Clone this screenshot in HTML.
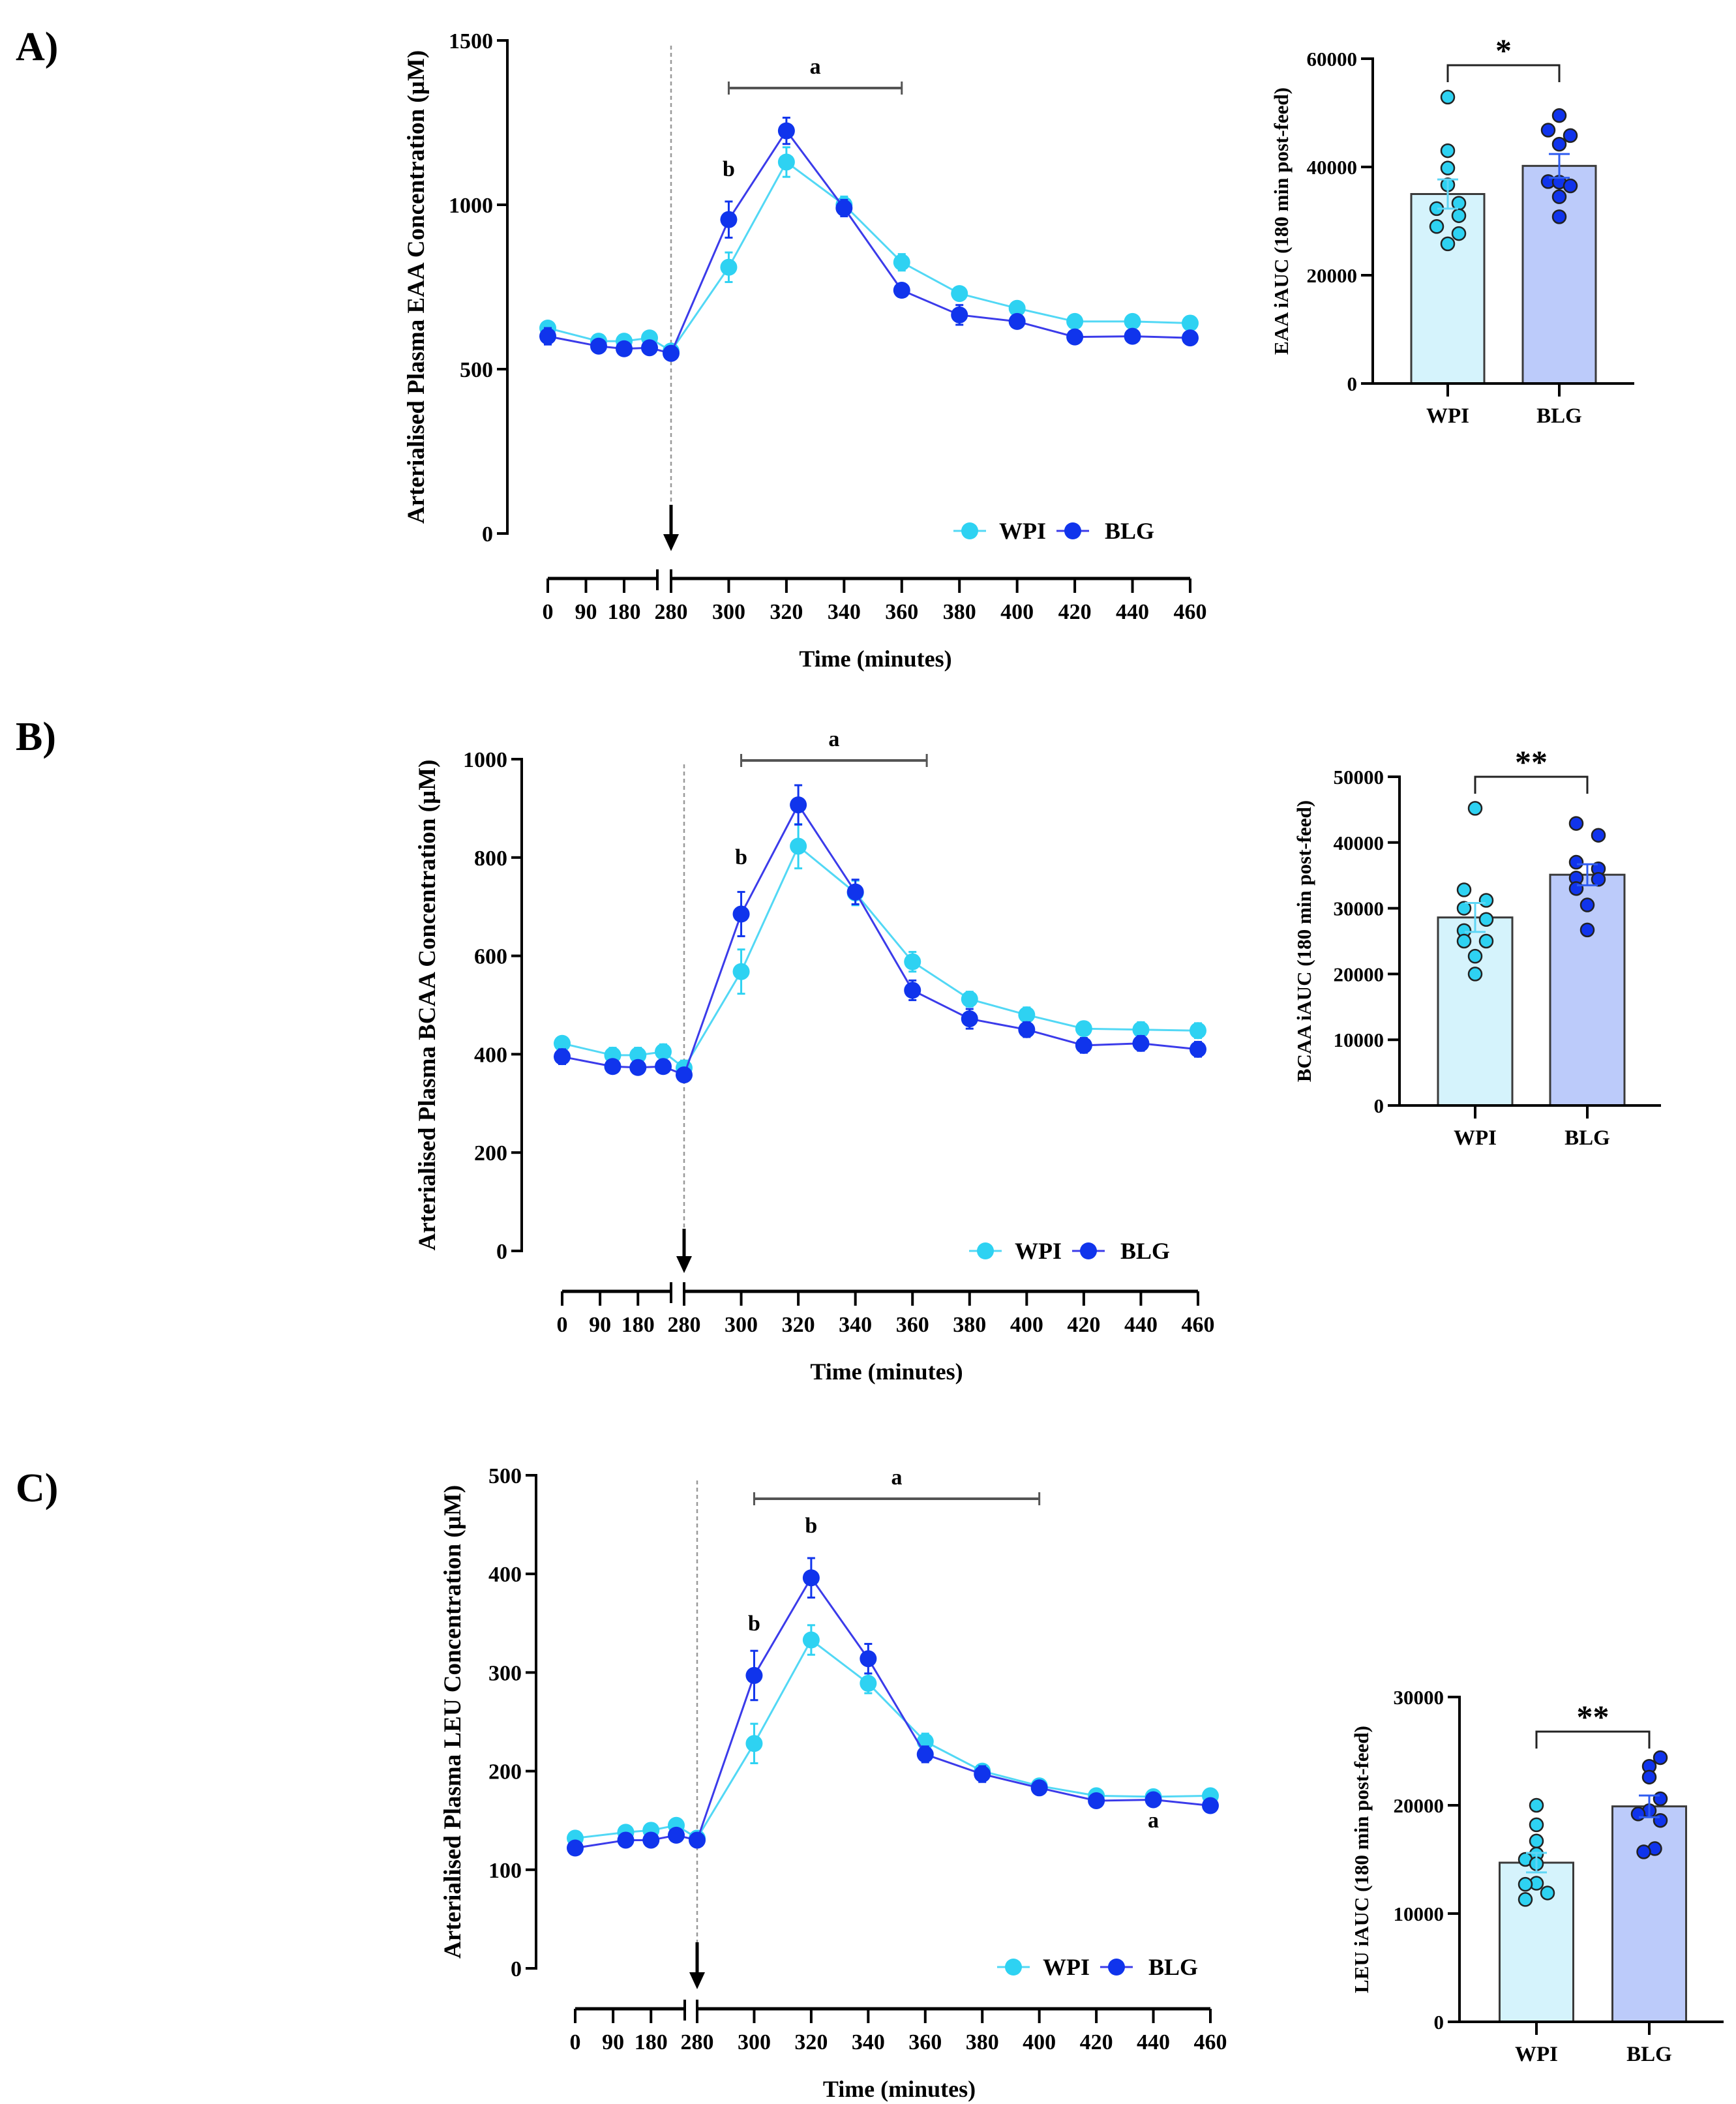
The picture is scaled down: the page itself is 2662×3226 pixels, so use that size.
<!DOCTYPE html>
<html><head><meta charset="utf-8"><style>
html,body{margin:0;padding:0;background:#fff}
svg{display:block;font-family:"Liberation Serif",serif;font-weight:bold}
</style></head><body>
<svg id="fig" width="2662" height="3226" viewBox="0 0 2662 3226" xmlns="http://www.w3.org/2000/svg">
<text x="24" y="92" font-size="62">A)</text>
<text x="24" y="1150" font-size="62">B)</text>
<text x="24" y="2302" font-size="62">C)</text>
</svg>
<script>
// ---- shared time categories ----
const times = [0,120,180,240,280,300,320,340,360,380,400,420,440,460];
const timeTicks = [0,90,180,280,300,320,340,360,380,400,420,440,460];
// ---- Panel A (EAA) ----
const eaaWPI = [625,585,585,595,555,810,1130,1000,825,730,685,645,645,640];
const eaaWPIerr = [15,12,15,15,12,45,45,25,25,15,12,10,10,12];
const eaaBLG = [600,570,562,565,548,955,1225,990,740,665,645,598,600,595];
const eaaBLGerr = [25,15,15,15,12,55,40,25,20,30,15,12,12,15];
const eaaTicks = [0,500,1000,1500];
// ---- Panel B (BCAA) ----
const bcaaWPI = [422,398,398,405,372,568,823,728,588,512,480,452,450,448];
const bcaaWPIerr = [12,15,15,15,15,45,45,25,20,15,15,12,15,15];
const bcaaBLG = [395,375,373,375,358,685,907,730,530,472,450,418,422,410];
const bcaaBLGerr = [15,12,12,12,12,45,40,25,20,20,15,15,15,15];
const bcaaTicks = [0,200,400,600,800,1000];
// ---- Panel C (LEU) ----
const leuWPI = [132,138,140,145,132,228,333,289,230,200,185,175,174,175];
const leuWPIerr = [5,5,5,5,5,20,15,10,8,6,5,4,4,4];
const leuBLG = [122,130,130,135,130,297,396,314,217,197,183,170,171,165];
const leuBLGerr = [5,5,5,5,5,25,20,15,8,8,4,4,4,5];
const leuTicks = [0,100,200,300,400,500];
// ---- Bar charts ----
const groups = ['WPI','BLG'];
const eaaMeans = [35000,40200]; const eaaSem = [2700,2200];
const eaaPtsWPI = [52900,43000,39800,36700,33300,32300,31000,29000,27700,25800];
const eaaPtsBLG = [49500,46800,45800,44200,37300,37200,36500,34500,30800];
const eaaBarTicks = [0,20000,40000,60000];
const bcaaMeans = [28600,35100]; const bcaaSem = [2200,1600];
const bcaaPtsWPI = [45200,32800,31200,30000,28300,26600,25000,25000,22700,20000];
const bcaaPtsBLG = [42900,41100,37000,36000,34600,34400,33000,30500,26700];
const bcaaBarTicks = [0,10000,20000,30000,40000,50000];
const leuMeans = [14700,19900]; const leuSem = [900,1000];
const leuPtsWPI = [20000,18200,16700,15500,15000,14600,12800,12700,11900,11300];
const leuPtsBLG = [24400,23600,22600,20600,19500,19200,18600,16000,15700];
const leuBarTicks = [0,10000,20000,30000];
// jitter columns (-1,0,1) for dot placement
const jitA1=[0,0,0,0,1,-1,1,-1,1,0], jitA2=[0,-1,1,0,-1,0,1,0,0];
const jitB1=[0,-1,1,-1,1,-1,-1,1,0,0], jitB2=[-1,1,-1,1,-1,1,-1,0,0];
const jitC1=[0,0,0,0,-1,0,0,-1,1,-1], jitC2=[1,0,0,1,0,-1,1,0.5,-0.5];

const NS='http://www.w3.org/2000/svg';
const svg=document.getElementById('fig');
function mk(tag,attrs,parent,txt){const e=document.createElementNS(NS,tag);for(const k in attrs)e.setAttribute(k,attrs[k]);if(txt!==undefined)e.textContent=txt;(parent||svg).appendChild(e);return e;}
const CW='#2ed2f2', CB='#1034ec', LW='#52d8f5', LB='#3b3bea';

function lineChart(p,wpi,wErr,blg,bErr,ticks,maxV,title){
  const g=mk('g',{});
  
  
  const X=t=> t<=240 ? p.x0+t*(p.x240-p.x0)/240 : p.x280+(t-280)*(p.x460-p.x280)/180;
  const Y=v=> p.y0-v*(p.y0-p.yTop)/maxV;
  const ya=mk('line',{x1:p.ax,y1:p.yTop-2,x2:p.ax,y2:p.y0+2,stroke:'#000','stroke-width':4},g);
  
  
  ticks.forEach(v=>{
    mk('line',{x1:p.ax-16,y1:Y(v),x2:p.ax,y2:Y(v),stroke:'#000','stroke-width':4},g);
    const t=mk('text',{x:p.ax-22,y:Y(v)+12,'font-size':34,'text-anchor':'end'},g,String(v));
    
    
  });
  const yt=mk('text',{x:p.titleX,y:(p.yTop+p.y0)/2,'font-size':37,'text-anchor':'middle',transform:`rotate(-90 ${p.titleX} ${(p.yTop+p.y0)/2})`},g,title);
  
  
  mk('line',{x1:p.x280,y1:p.yTop+8,x2:p.x280,y2:p.arrowTop,stroke:'#999','stroke-width':2.5,'stroke-dasharray':'6 5'},g);
  const ar=mk('g',{},g);
  
  
  mk('line',{x1:p.x280,y1:p.arrowTop,x2:p.x280,y2:p.arrowBot-20,stroke:'#000','stroke-width':5},ar);
  mk('polygon',{points:`${p.x280-12},${p.arrowBot-26} ${p.x280+12},${p.arrowBot-26} ${p.x280},${p.arrowBot}`,fill:'#000'},ar);
  const ta=mk('g',{},g);
  
  
  mk('line',{x1:p.x0,y1:p.xl,x2:p.brk,y2:p.xl,stroke:'#000','stroke-width':5},ta);
  mk('line',{x1:p.x280,y1:p.xl,x2:p.x460,y2:p.xl,stroke:'#000','stroke-width':5},ta);
  mk('line',{x1:p.brk,y1:p.xl-14,x2:p.brk,y2:p.xl+18,stroke:'#000','stroke-width':4},ta);
  mk('line',{x1:p.x280,y1:p.xl-14,x2:p.x280,y2:p.xl+18,stroke:'#000','stroke-width':4},ta);
  timeTicks.forEach(t=>{
    mk('line',{x1:X(t),y1:p.xl,x2:X(t),y2:p.xl+22,stroke:'#000','stroke-width':4},ta);
    const l=mk('text',{x:X(t),y:p.xl+62,'font-size':34,'text-anchor':'middle'},ta,String(t));
    
    
  });
  const xt=mk('text',{x:(p.x0+p.x460)/2+10,y:p.xl+135,'font-size':36,'text-anchor':'middle'},g,'Time (minutes)');
  
  
  function series(vals,errs,lc,mc,nm){
    const sg=mk('g',{},g);
    
    
    mk('polyline',{points:vals.map((v,i)=>X(times[i])+','+Y(v)).join(' '),fill:'none',stroke:lc,'stroke-width':3},sg);
    vals.forEach((v,i)=>{
      const x=X(times[i]);
      mk('line',{x1:x,y1:Y(v-errs[i]),x2:x,y2:Y(v+errs[i]),stroke:mc,'stroke-width':3},sg);
      mk('line',{x1:x-6,y1:Y(v+errs[i]),x2:x+6,y2:Y(v+errs[i]),stroke:mc,'stroke-width':3},sg);
      mk('line',{x1:x-6,y1:Y(v-errs[i]),x2:x+6,y2:Y(v-errs[i]),stroke:mc,'stroke-width':3},sg);
      const c=mk('circle',{cx:x,cy:Y(v),r:13,fill:mc},sg);
      
      
    });
  }
  series(wpi,wErr,LW,CW,'wpi-series');
  series(blg,bErr,LB,CB,'blg-series');
  const br=mk('g',{},g);
  
  
  mk('line',{x1:X(300),y1:p.brY,x2:X(p.brEnd),y2:p.brY,stroke:'#555','stroke-width':4},br);
  mk('line',{x1:X(300),y1:p.brY-10,x2:X(300),y2:p.brY+10,stroke:'#555','stroke-width':3},br);
  mk('line',{x1:X(p.brEnd),y1:p.brY-10,x2:X(p.brEnd),y2:p.brY+10,stroke:'#555','stroke-width':3},br);
  mk('text',{x:(X(300)+X(p.brEnd))/2,y:p.brY-22,'font-size':34,'text-anchor':'middle'},br,'a');
  p.notes.forEach(n=>{
    const t=mk('text',{x:X(n[0]),y:n[1],'font-size':34,'text-anchor':'middle'},g,n[2]);
    
    
  });
  const lg=mk('g',{},g);
  
  
  const lx=p.legX, ly=p.legY;
  mk('line',{x1:lx,y1:ly,x2:lx+50,y2:ly,stroke:LW,'stroke-width':3},lg);
  mk('circle',{cx:lx+25,cy:ly,r:13,fill:CW},lg);
  mk('text',{x:lx+70,y:ly+12,'font-size':36},lg,'WPI');
  mk('line',{x1:lx+158,y1:ly,x2:lx+208,y2:ly,stroke:LB,'stroke-width':3},lg);
  mk('circle',{cx:lx+183,cy:ly,r:13,fill:CB},lg);
  mk('text',{x:lx+232,y:ly+12,'font-size':36},lg,'BLG');
}

lineChart({name:'eaa-line-chart',ax:778,x0:840,x240:996,x280:1029,x460:1825,y0:818,yTop:62,xl:887,brk:1008,
  arrowTop:774,arrowBot:845,titleX:650,brY:135,brEnd:360,legX:1462,legY:814,
  notes:[[300,270,'b']]},eaaWPI,eaaWPIerr,eaaBLG,eaaBLGerr,eaaTicks,1500,'Arterialised Plasma EAA Concentration (\u00b5M)');
lineChart({name:'bcaa-line-chart',ax:800,x0:862,x240:1017,x280:1049,x460:1837,y0:1918,yTop:1164,xl:1980,brk:1029,
  arrowTop:1884,arrowBot:1952,titleX:667,brY:1166,brEnd:365,legX:1486,legY:1918,
  notes:[[300,1325,'b']]},bcaaWPI,bcaaWPIerr,bcaaBLG,bcaaBLGerr,bcaaTicks,1000,'Arterialised Plasma BCAA Concentration (\u00b5M)');
lineChart({name:'leu-line-chart',ax:822,x0:882,x240:1037,x280:1069,x460:1856,y0:3018,yTop:2262,xl:3080,brk:1050,
  arrowTop:2978,arrowBot:3050,titleX:706,brY:2298,brEnd:400,legX:1529,legY:3016,
  notes:[[300,2500,'b'],[320,2350,'b'],[440,2802,'a']]},leuWPI,leuWPIerr,leuBLG,leuBLGerr,leuTicks,500,'Arterialised Plasma LEU Concentration (\u00b5M)');

function barChart(p,means,sems,ptsW,ptsB,jW,jB,ticks,maxV,title,stars){
  const g=mk('g',{});
  
  
  const Y=v=>p.y0-v*(p.y0-p.yTop)/maxV;
  const cx=[p.c1,p.c2], fills=['#d5f3fc','#bccbfa'], dot=[CW,CB], semC=['#5fd6f5','#2f5cf0'];
  means.forEach((m,i)=>{
    const b=mk('rect',{x:cx[i]-p.bw/2,y:Y(m),width:p.bw,height:p.y0-Y(m),fill:fills[i],stroke:'#3a3a3a','stroke-width':3},g);
    
    
  });
  [ptsW,ptsB].forEach((pts,i)=>{
    const jit=i?jB:jW;
    pts.forEach((v,k)=>{
      const c=mk('circle',{cx:cx[i]+jit[k]*17,cy:Y(v),r:10,fill:dot[i],stroke:'#222','stroke-width':2.5},g);
      
      
    });
  });
  means.forEach((m,i)=>{
    mk('line',{x1:cx[i],y1:Y(m-sems[i]),x2:cx[i],y2:Y(m+sems[i]),stroke:semC[i],'stroke-width':3},g);
    mk('line',{x1:cx[i]-16,y1:Y(m+sems[i]),x2:cx[i]+16,y2:Y(m+sems[i]),stroke:semC[i],'stroke-width':3},g);
    mk('line',{x1:cx[i]-16,y1:Y(m-sems[i]),x2:cx[i]+16,y2:Y(m-sems[i]),stroke:semC[i],'stroke-width':3},g);
  });
  const ya=mk('line',{x1:p.ax,y1:p.yTop-2,x2:p.ax,y2:p.y0,stroke:'#000','stroke-width':4},g);
  
  
  const xa=mk('line',{x1:p.ax-18,y1:p.y0,x2:p.axEnd,y2:p.y0,stroke:'#000','stroke-width':4},g);
  
  
  ticks.forEach(v=>{
    mk('line',{x1:p.ax-18,y1:Y(v),x2:p.ax,y2:Y(v),stroke:'#000','stroke-width':4},g);
    const t=mk('text',{x:p.ax-24,y:Y(v)+11,'font-size':31,'text-anchor':'end'},g,String(v));
    
    
  });
  groups.forEach((n,i)=>{
    mk('line',{x1:cx[i],y1:p.y0,x2:cx[i],y2:p.y0+20,stroke:'#000','stroke-width':4},g);
    const t=mk('text',{x:cx[i],y:p.y0+60,'font-size':33,'text-anchor':'middle'},g,n);
    
    
  });
  const yt=mk('text',{x:p.titleX,y:(p.yTop+p.y0)/2,'font-size':31,'text-anchor':'middle',transform:`rotate(-90 ${p.titleX} ${(p.yTop+p.y0)/2})`},g,title);
  
  
  const br=mk('g',{},g);
  
  
  mk('polyline',{points:`${cx[0]},${p.brY+26} ${cx[0]},${p.brY} ${cx[1]},${p.brY} ${cx[1]},${p.brY+26}`,fill:'none',stroke:'#222','stroke-width':3},br);
  mk('text',{x:(cx[0]+cx[1])/2,y:p.brY-6,'font-size':50,'text-anchor':'middle'},br,stars);
}
barChart({name:'eaa-iauc-bar-chart',ax:2105,axEnd:2506,c1:2220,c2:2391,bw:112,y0:588,yTop:90,titleX:1975,brY:100},
  eaaMeans,eaaSem,eaaPtsWPI,eaaPtsBLG,jitA1,jitA2,eaaBarTicks,60000,'EAA iAUC (180 min post-feed)','*');
barChart({name:'bcaa-iauc-bar-chart',ax:2146,axEnd:2547,c1:2262,c2:2434,bw:114,y0:1695,yTop:1191,titleX:2010,brY:1191},
  bcaaMeans,bcaaSem,bcaaPtsWPI,bcaaPtsBLG,jitB1,jitB2,bcaaBarTicks,50000,'BCAA iAUC (180 min post-feed)','**');
barChart({name:'leu-iauc-bar-chart',ax:2238,axEnd:2643,c1:2356,c2:2529,bw:113,y0:3100,yTop:2602,titleX:2098,brY:2655},
  leuMeans,leuSem,leuPtsWPI,leuPtsBLG,jitC1,jitC2,leuBarTicks,30000,'LEU iAUC (180 min post-feed)','**');
</script>
</body></html>
